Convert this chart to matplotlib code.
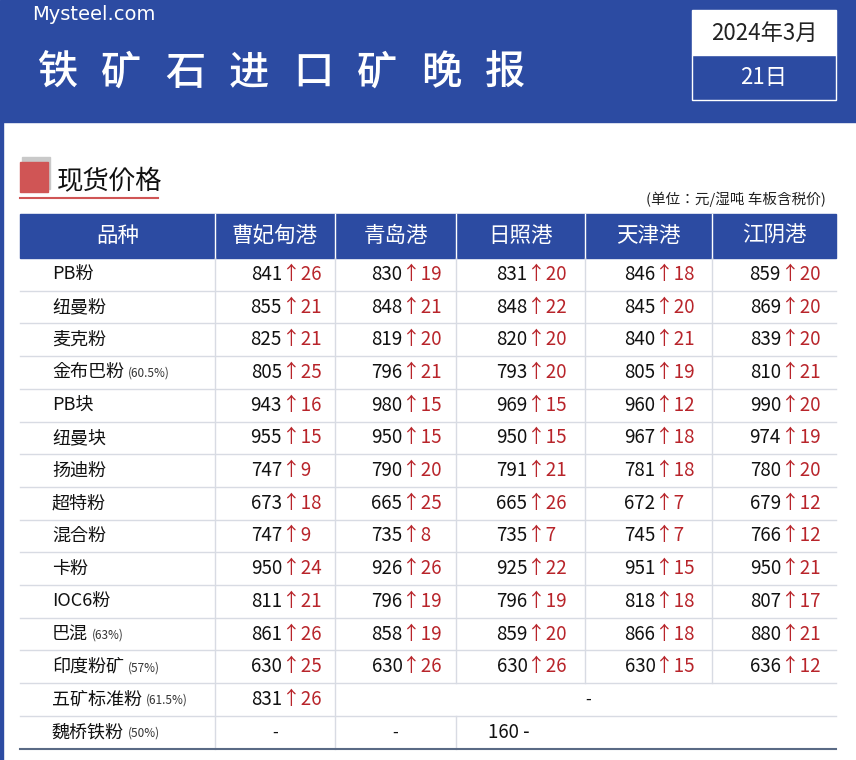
import matplotlib.pyplot as plt
from matplotlib.patches import Rectangle

plt.rcParams['font.family'] = ['Noto Sans CJK SC', 'Noto Sans CJK JP', 'DejaVu Sans']

title_chars = list('铁矿石进口矿晚报')
ports = ['曹妃甸港', '青岛港', '日照港', '天津港', '江阴港']
names = ['PB粉', '纽曼粉', '麦克粉', '金布巴粉', 'PB块', '纽曼块', '扬迪粉', '超特粉',
         '混合粉', '卡粉', 'IOC6粉', '巴混', '印度粉矿', '五矿标准粉', '魏桥铁粉']
notes = ['', '', '', '(60.5%)', '', '', '', '', '', '', '', '(63%)', '(57%)', '(61.5%)', '(50%)']
prices = [
    [841, 830, 831, 846, 859],
    [855, 848, 848, 845, 869],
    [825, 819, 820, 840, 839],
    [805, 796, 793, 805, 810],
    [943, 980, 969, 960, 990],
    [955, 950, 950, 967, 974],
    [747, 790, 791, 781, 780],
    [673, 665, 665, 672, 679],
    [747, 735, 735, 745, 766],
    [950, 926, 925, 951, 950],
    [811, 796, 796, 818, 807],
    [861, 858, 859, 866, 880],
    [630, 630, 630, 630, 636],
]
changes = [
    [26, 19, 20, 18, 20],
    [21, 21, 22, 20, 20],
    [21, 20, 20, 21, 20],
    [25, 21, 20, 19, 21],
    [16, 15, 15, 12, 20],
    [15, 15, 15, 18, 19],
    [9, 20, 21, 18, 20],
    [18, 25, 26, 7, 12],
    [9, 8, 7, 7, 12],
    [24, 26, 22, 15, 21],
    [21, 19, 19, 18, 17],
    [26, 19, 20, 18, 21],
    [25, 26, 26, 15, 12],
]
wk_price, wk_change = 831, 26
wq_price = 160

BLUE = '#2c4ba2'
RED = '#b8242a'
GRID = '#d8dbe3'

fig = plt.figure(figsize=(8.56, 7.6), dpi=100)
ax = fig.add_axes([0, 0, 1, 1])
ax.set_xlim(0, 856)
ax.set_ylim(760, 0)
ax.axis('off')

# header band
ax.add_patch(Rectangle((0, 0), 856, 122, color=BLUE))
ax.add_patch(Rectangle((0, 122), 3, 638, color=BLUE))
ax.text(32, 14, 'Mysteel.com', color='white', fontsize=14, fontfamily='DejaVu Sans',
        va='center', ha='left')
for k, ch in enumerate(title_chars):
    ax.text(57 + k * 64, 73, ch, color='white', fontsize=29, va='center', ha='center',
            fontweight='medium')
ax.add_patch(Rectangle((692, 10), 144, 45, facecolor='white', edgecolor='white'))
ax.add_patch(Rectangle((692, 55), 144, 45, facecolor=BLUE, edgecolor='white', lw=1))
ax.text(764, 33, '2024年3月', fontsize=16, ha='center', va='center', color='#222')
ax.text(764, 77, '21日', fontsize=16, ha='center', va='center', color='white')

# section title
ax.add_patch(Rectangle((22, 157), 28, 32, color='#c9c9c9'))
ax.add_patch(Rectangle((20, 162), 28, 30, color='#d05555'))
ax.text(57, 182, '现货价格', fontsize=19, ha='left', va='center', color='#111')
ax.plot([20, 158], [198, 198], color='#d05555', lw=1.5)
ax.text(826, 199, '(单位：元/湿吨 车板含税价)', fontsize=10.5, ha='right', va='center', color='#222')

# table
xs = [20, 215, 335, 456, 585, 712, 836]
top, head_h, row_h = 214, 44, 32.7
ax.add_patch(Rectangle((xs[0], top), xs[-1] - xs[0], head_h, color=BLUE))
heads = ['品种'] + ports
for i, h in enumerate(heads):
    cx = (xs[i] + xs[i + 1]) / 2
    ax.text(cx, top + head_h / 2, h, color='white', fontsize=15.5, ha='center', va='center')
    if i > 0:
        ax.plot([xs[i], xs[i]], [top, top + head_h], color='white', lw=1)

y0 = top + head_h
n = len(names)
fig.canvas.draw()
for r in range(n):
    yt = y0 + r * row_h
    yc = yt + row_h / 2
    if r < n - 1:
        ax.plot([xs[0], xs[-1]], [yt + row_h, yt + row_h], color=GRID, lw=1)
    t = ax.text(52, yc, names[r], fontsize=13, ha='left', va='center', color='#111')
    if notes[r]:
        bb = t.get_window_extent(renderer=fig.canvas.get_renderer()).transformed(ax.transData.inverted())
        ax.text(bb.x1 + 4, yc + 1, notes[r], fontsize=8.5, ha='left', va='center', color='#333')
    if r < len(prices):
        for c in range(5):
            cx = (xs[c + 1] + xs[c + 2]) / 2
            ax.text(cx + 7, yc, str(prices[r][c]), fontsize=13.5, ha='right', va='center', color='#111')
            ax.text(cx + 7, yc, '↑' + str(changes[r][c]), fontsize=13.5, ha='left', va='center', color=RED)
    elif names[r] == '五矿标准粉':
        cx = (xs[1] + xs[2]) / 2
        ax.text(cx + 7, yc, str(wk_price), fontsize=13.5, ha='right', va='center', color='#111')
        ax.text(cx + 7, yc, '↑' + str(wk_change), fontsize=13.5, ha='left', va='center', color=RED)
        ax.text(588, yc, '-', fontsize=12, ha='center', va='center', color='#111')
    else:
        for c in range(2):
            cx = (xs[c + 1] + xs[c + 2]) / 2
            ax.text(cx, yc, '-', fontsize=12, ha='center', va='center', color='#111')
        ax.text(488, yc, str(wq_price) + ' -', fontsize=13.5, ha='left', va='center', color='#111')

bottom = y0 + n * row_h
# vertical lines
for i in (1, 2):
    ax.plot([xs[i], xs[i]], [y0, bottom], color=GRID, lw=1)
ax.plot([xs[3], xs[3]], [y0, y0 + 13 * row_h], color=GRID, lw=1)
ax.plot([xs[3], xs[3]], [y0 + 14 * row_h, bottom], color=GRID, lw=1)
for i in (4, 5):
    ax.plot([xs[i], xs[i]], [y0, y0 + 13 * row_h], color=GRID, lw=1)
ax.plot([xs[0], xs[-1]], [bottom, bottom], color='#5a6a85', lw=1.5)

fig.savefig('out.png', dpi=100)
